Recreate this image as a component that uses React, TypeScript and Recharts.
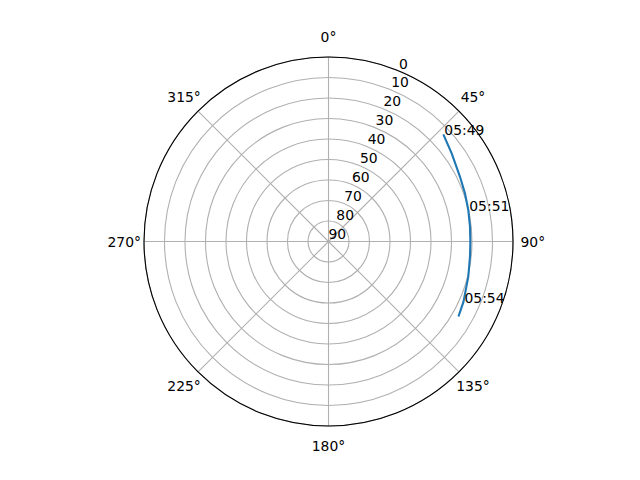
import React from 'react'
import { RadarChart, PolarGrid, PolarAngleAxis, PolarRadiusAxis, Radar } from 'recharts'

// satellite pass, azimuth (deg, clockwise from north) and elevation (deg)
const AZIMUTH = [47, 54.4, 63.8, 70.6, 77.3, 84, 90, 96, 104, 114, 120]
const ELEVATION = [13.4, 16.1, 18.5, 19.4, 20.1, 20.6, 20.8, 20.6, 19.7, 17.9, 16.8]
const TIME_LABELS = ['05:49', '', '', '', '05:51', '', '', '', '', '05:54', '']

const AZ_TICKS = [0, 45, 90, 135, 180, 225, 270, 315]
const EL_TICKS = [0, 10, 20, 30, 40, 50, 60, 70, 80, 90]

const FONT = { fontFamily: '"DejaVu Sans", sans-serif', fontSize: 13.9, fill: '#000' }
const TRACK = '#1f77b4'

const data = AZIMUTH.map((az, i) => ({ az, el: ELEVATION[i], time: TIME_LABELS[i] }))

const AngleTick = ({ x, y, payload }: any) => (
  <text x={x} y={y} textAnchor="middle" dominantBaseline="central" style={FONT}>
    {`${payload.value}°`}
  </text>
)

const RadiusTick = ({ x, y, payload }: any) => (
  <text x={x} y={y - 2.5} textAnchor="start" style={FONT}>
    {payload.value}
  </text>
)

// open line instead of the closed radar polygon, plus time stamps
const TrackShape = ({ points }: any) => {
  if (!points?.length) return null
  const d = points.map((p: any, i: number) => `${i ? 'L' : 'M'}${p.x},${p.y}`).join(' ')
  return (
    <g>
      <path d={d} fill="none" stroke={TRACK} strokeWidth={2.1} />
      {points.map((p: any, i: number) =>
        TIME_LABELS[i] ? (
          <text key={i} x={p.x + 1} y={p.y + 1} textAnchor="start" style={FONT}>
            {TIME_LABELS[i]}
          </text>
        ) : null
      )}
    </g>
  )
}

export default function App() {
  return (
    <div style={{ position: 'absolute', left: 0, top: 0, width: 640, height: 480, background: '#fff' }}>
      <RadarChart
        width={640}
        height={480}
        data={data}
        cx={328.5}
        cy={241.5}
        innerRadius={0}
        outerRadius={184.5}
        startAngle={90}
        endAngle={-270}
        margin={{ top: 0, right: 0, bottom: 0, left: 0 }}
      >
        <PolarGrid gridType="circle" stroke="#b0b0b0" strokeWidth={1.1} />
        <PolarAngleAxis
          dataKey="az"
          type="number"
          domain={[0, 360]}
          ticks={AZ_TICKS}
          tick={<AngleTick />}
          tickLine={false}
          tickSize={19.8}
          axisLineType="circle"
          axisLine={{ stroke: '#000', strokeWidth: 1.1 }}
        />
        <PolarRadiusAxis
          type="number"
          angle={67.5}
          domain={[0, 90]}
          ticks={EL_TICKS}
          tickCount={10}
          reversed
          axisLine={false}
          tick={<RadiusTick />}
        />
        <Radar dataKey="el" shape={<TrackShape />} isAnimationActive={false} />
      </RadarChart>
    </div>
  )
}
